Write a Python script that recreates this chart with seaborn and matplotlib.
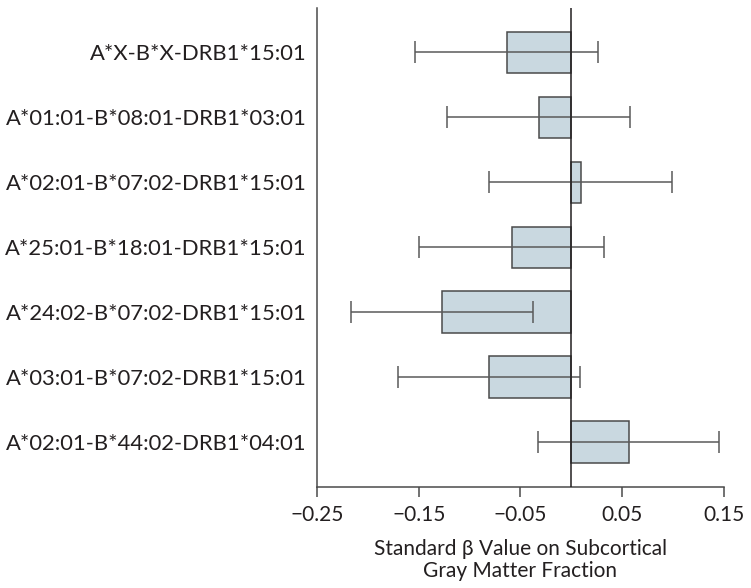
import numpy as np
import pandas as pd
import matplotlib
matplotlib.use("Agg")
import matplotlib.pyplot as plt
import seaborn as sns

haplotypes = [
    "A*X-B*X-DRB1*15:01",
    "A*01:01-B*08:01-DRB1*03:01",
    "A*02:01-B*07:02-DRB1*15:01",
    "A*25:01-B*18:01-DRB1*15:01",
    "A*24:02-B*07:02-DRB1*15:01",
    "A*03:01-B*07:02-DRB1*15:01",
    "A*02:01-B*44:02-DRB1*04:01",
]
beta = [-0.0635, -0.032, 0.0096, -0.0586, -0.1274, -0.0812, 0.0565]
ci_low = [-0.1535, -0.122, -0.081, -0.150, -0.2168, -0.1706, -0.0327]
ci_high = [0.0266, 0.0578, 0.0994, 0.0319, -0.0376, 0.009, 0.1456]
xticks = [-0.25, -0.15, -0.05, 0.05, 0.15]

df = pd.DataFrame({"haplotype": haplotypes, "beta": beta,
                   "low": ci_low, "high": ci_high})

sns.set_style("white")
plt.rcParams["font.family"] = ["Lato", "DejaVu Sans"]
text_col = "#231f20"

fig = plt.figure(figsize=(7.51, 5.88), dpi=100)
ax = fig.add_axes([0.422, 0.1723, 0.542, 0.8137])

sns.barplot(data=df, x="beta", y="haplotype", orient="h", color="#c9d8e0",
            saturation=1, width=0.635, edgecolor="#4a4a4a", linewidth=1.1,
            errorbar=None, ax=ax)

# confidence intervals
xerr = np.array([df["beta"] - df["low"], df["high"] - df["beta"]])
ax.errorbar(df["beta"], np.arange(len(df)), xerr=xerr, fmt="none",
            ecolor="#5a5a5a", elinewidth=1.1, capsize=8, capthick=1.1, zorder=3)

ax.axvline(0, color="#231f20", lw=1.1, zorder=4)

ax.set_xlim(-0.25, 0.15)
ax.set_ylim(6.69, -0.68)
ax.set_xticks(xticks)
ax.set_xticklabels([f"{t:.2f}".replace("-", "\u2212") for t in xticks])
ax.set_ylabel("")
ax.set_xlabel("Standard \u03b2 Value on Subcortical\nGray Matter Fraction",
              fontsize=15, color=text_col, labelpad=10, linespacing=1.15)

sns.despine(ax=ax)
for s in ["left", "bottom"]:
    ax.spines[s].set_color("#4a4a4a")
    ax.spines[s].set_linewidth(1.1)
ax.tick_params(axis="x", which="both", bottom=True, length=7, width=1.1,
               color="#4a4a4a", labelsize=15, labelcolor=text_col, pad=6)
ax.tick_params(axis="y", left=False, labelsize=15.8, labelcolor=text_col, pad=4)

fig.savefig("out.png", dpi=100)
